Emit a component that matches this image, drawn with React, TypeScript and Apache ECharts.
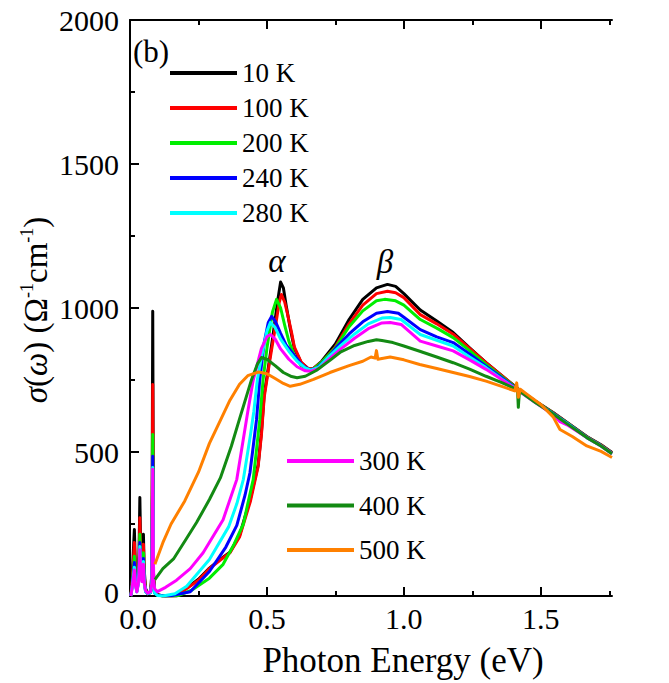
import React, { useEffect, useRef } from "react";
import * as echarts from "echarts";

type Pt = [number, number];

const FONT = "'Liberation Serif', 'Times New Roman', serif";

const seriesNames = ["10 K", "100 K", "200 K", "240 K", "280 K", "300 K", "400 K", "500 K"];
const seriesColors = ["#000000", "#ff0000", "#00ee00", "#0000ff", "#00ffff", "#ff00ff", "#138a13", "#ff8000"];
const legendTop = ["10 K", "100 K", "200 K", "240 K", "280 K"];
const legendBottom = ["300 K", "400 K", "500 K"];

const xMajorTicks = [0, 0.5, 1.0, 1.5];
const xMinorTicks = [0.25, 0.75, 1.25, 1.75];

const t10K: Pt[] = [
  [0.003, 0], [0.008, 70], [0.012, 150], [0.016, 231], [0.02, 90], [0.025, 30], [0.03, 80], [0.033, 150],
  [0.036, 342], [0.039, 160], [0.043, 100], [0.046, 140], [0.049, 214], [0.052, 90], [0.057, 25], [0.065, 10],
  [0.075, 15], [0.08, 80], [0.083, 989], [0.086, 80], [0.09, 20], [0.1, 5], [0.12, 0], [0.15, 0], [0.17, 0],
  [0.19, 15], [0.21, 30], [0.25, 58], [0.29, 97], [0.33, 128], [0.365, 152], [0.4, 210], [0.44, 340],
  [0.468, 455], [0.48, 570], [0.49, 700], [0.5, 760], [0.52, 890], [0.54, 1030], [0.55, 1090], [0.56, 1070],
  [0.57, 1010], [0.585, 930], [0.6, 860], [0.625, 810], [0.65, 790], [0.67, 790], [0.7, 815], [0.75, 875],
  [0.8, 960], [0.85, 1030], [0.9, 1070], [0.94, 1082], [0.97, 1075], [1.0, 1050], [1.06, 993], [1.12, 955],
  [1.18, 915], [1.24, 862], [1.3, 810], [1.36, 763], [1.42, 717], [1.48, 677], [1.545, 637], [1.6, 600],
  [1.668, 554], [1.72, 525], [1.76, 498],
];

const t100K: Pt[] = [
  [0.003, 0], [0.008, 50], [0.012, 110], [0.016, 186], [0.02, 70], [0.025, 25], [0.03, 60], [0.033, 120],
  [0.036, 272], [0.039, 130], [0.043, 80], [0.046, 110], [0.049, 180], [0.052, 70], [0.057, 20], [0.065, 8],
  [0.075, 12], [0.08, 60], [0.083, 734], [0.086, 60], [0.09, 15], [0.1, 4], [0.12, 0], [0.15, 0], [0.175, 2],
  [0.21, 28], [0.25, 55], [0.29, 95], [0.33, 125], [0.365, 150], [0.4, 205], [0.44, 330], [0.468, 450],
  [0.48, 560], [0.49, 690], [0.5, 752], [0.51, 815], [0.53, 930], [0.545, 1020], [0.553, 1047], [0.565, 1020],
  [0.575, 980], [0.59, 915], [0.6, 865], [0.625, 812], [0.65, 790], [0.67, 790], [0.7, 812], [0.75, 865],
  [0.8, 945], [0.85, 1010], [0.9, 1050], [0.94, 1058], [0.97, 1053], [1.0, 1036], [1.06, 977], [1.12, 945],
  [1.18, 909], [1.24, 860], [1.3, 810], [1.36, 763], [1.42, 716], [1.48, 676], [1.545, 636], [1.6, 599],
  [1.668, 553], [1.72, 524], [1.76, 497],
];

const t200K: Pt[] = [
  [0.003, 0], [0.008, 40], [0.012, 90], [0.016, 138], [0.02, 55], [0.025, 20], [0.03, 50], [0.033, 100],
  [0.036, 214], [0.039, 110], [0.043, 70], [0.046, 90], [0.049, 150], [0.052, 60], [0.057, 18], [0.065, 8],
  [0.075, 12], [0.08, 50], [0.083, 561], [0.086, 50], [0.09, 12], [0.1, 3], [0.12, 0], [0.15, 0], [0.18, 3],
  [0.225, 20], [0.29, 62], [0.34, 110], [0.38, 180], [0.414, 250], [0.43, 320], [0.45, 405], [0.474, 613],
  [0.486, 752], [0.5, 860], [0.52, 985], [0.535, 1030], [0.55, 1000], [0.565, 940], [0.58, 885], [0.6, 835],
  [0.625, 800], [0.65, 787], [0.67, 788], [0.7, 812], [0.75, 862], [0.8, 935], [0.85, 990], [0.9, 1025],
  [0.93, 1030], [0.97, 1025], [1.0, 1010], [1.06, 960], [1.12, 930], [1.18, 897], [1.24, 852], [1.3, 804],
  [1.36, 760], [1.42, 715], [1.48, 675], [1.545, 635], [1.6, 598], [1.668, 552], [1.72, 523], [1.76, 496],
];

const t240K: Pt[] = [
  [0.003, 0], [0.008, 35], [0.012, 75], [0.016, 116], [0.02, 45], [0.025, 15], [0.03, 45], [0.033, 90],
  [0.036, 186], [0.039, 95], [0.043, 60], [0.046, 80], [0.049, 130], [0.052, 50], [0.057, 15], [0.065, 8],
  [0.075, 12], [0.08, 45], [0.083, 485], [0.086, 45], [0.09, 10], [0.1, 3], [0.13, 0], [0.16, 3], [0.22, 15],
  [0.29, 85], [0.35, 170], [0.39, 245], [0.42, 350], [0.438, 428], [0.45, 520], [0.462, 613], [0.474, 752],
  [0.49, 880], [0.505, 950], [0.517, 971], [0.53, 955], [0.55, 912], [0.57, 872], [0.6, 835], [0.63, 800],
  [0.655, 786], [0.68, 790], [0.72, 825], [0.76, 870], [0.8, 910], [0.85, 952], [0.9, 982], [0.94, 988],
  [0.98, 982], [1.0, 968], [1.06, 925], [1.12, 900], [1.18, 880], [1.24, 840], [1.3, 798], [1.36, 756],
  [1.42, 714], [1.48, 674], [1.545, 634], [1.6, 597], [1.668, 551], [1.72, 522], [1.76, 495],
];

const t280K: Pt[] = [
  [0.003, 0], [0.008, 30], [0.012, 65], [0.016, 100], [0.02, 40], [0.025, 15], [0.03, 40], [0.033, 80],
  [0.036, 172], [0.039, 85], [0.043, 55], [0.046, 70], [0.049, 120], [0.052, 45], [0.057, 15], [0.065, 8],
  [0.075, 12], [0.08, 45], [0.083, 446], [0.086, 45], [0.09, 10], [0.1, 2], [0.12, 0], [0.164, 8],
  [0.207, 34], [0.29, 127], [0.36, 240], [0.39, 320], [0.414, 405], [0.44, 560], [0.452, 640], [0.465, 752],
  [0.48, 830], [0.5, 920], [0.513, 950], [0.53, 932], [0.55, 892], [0.58, 850], [0.61, 815], [0.64, 792],
  [0.66, 784], [0.69, 795], [0.73, 835], [0.77, 870], [0.82, 910], [0.87, 945], [0.92, 965], [0.95, 967],
  [0.99, 960], [1.06, 908], [1.12, 888], [1.18, 868], [1.24, 830], [1.3, 793], [1.36, 752], [1.42, 713],
  [1.48, 673], [1.545, 632], [1.6, 596], [1.668, 550], [1.72, 521], [1.76, 494],
];

const t300K: Pt[] = [
  [0.003, 0], [0.008, 30], [0.012, 60], [0.016, 90], [0.02, 35], [0.025, 15], [0.03, 40], [0.033, 75],
  [0.036, 161], [0.039, 80], [0.043, 50], [0.046, 65], [0.049, 110], [0.052, 45], [0.057, 18], [0.065, 10],
  [0.075, 15], [0.08, 45], [0.083, 440], [0.086, 50], [0.09, 25], [0.1, 15], [0.13, 30], [0.17, 55],
  [0.22, 95], [0.267, 150], [0.34, 265], [0.39, 405], [0.43, 640], [0.45, 750], [0.48, 860], [0.5, 900],
  [0.513, 908], [0.53, 892], [0.55, 858], [0.58, 822], [0.61, 796], [0.64, 782], [0.66, 780], [0.69, 790],
  [0.73, 825], [0.77, 858], [0.82, 895], [0.87, 928], [0.92, 948], [0.95, 950], [0.99, 943], [1.06, 885],
  [1.12, 868], [1.18, 851], [1.24, 820], [1.3, 787], [1.36, 750], [1.42, 712], [1.48, 672], [1.545, 630],
  [1.57, 605], [1.6, 592], [1.668, 550], [1.72, 521], [1.76, 494],
];

const t400K: Pt[] = [
  [0.091, 57], [0.12, 95], [0.16, 130], [0.2, 190], [0.243, 255], [0.29, 335], [0.33, 410], [0.37, 520],
  [0.4, 615], [0.444, 752], [0.465, 805], [0.48, 828], [0.5, 822], [0.53, 800], [0.56, 776], [0.59, 762],
  [0.61, 758], [0.64, 763], [0.68, 783], [0.73, 818], [0.77, 848], [0.82, 870], [0.87, 884], [0.9, 890],
  [0.92, 887], [0.96, 880], [1.0, 868], [1.058, 850], [1.12, 830], [1.18, 810], [1.24, 788], [1.3, 763],
  [1.36, 740], [1.405, 720], [1.415, 715], [1.418, 655], [1.422, 712], [1.48, 672], [1.545, 632],
  [1.6, 595], [1.668, 550], [1.72, 521], [1.76, 494],
];

const t500K: Pt[] = [
  [0.091, 110], [0.12, 185], [0.15, 250], [0.2, 330], [0.25, 430], [0.29, 530], [0.33, 610], [0.365, 680],
  [0.4, 735], [0.43, 765], [0.47, 778], [0.5, 772], [0.53, 755], [0.56, 738], [0.585, 728], [0.62, 735],
  [0.67, 752], [0.73, 776], [0.8, 800], [0.85, 815], [0.88, 830], [0.895, 826], [0.9, 852], [0.905, 822],
  [0.95, 830], [1.0, 820], [1.058, 804], [1.12, 790], [1.18, 776], [1.24, 762], [1.3, 746], [1.36, 727],
  [1.405, 712], [1.412, 740], [1.418, 690], [1.425, 718], [1.45, 700], [1.5, 665], [1.545, 622],
  [1.57, 578], [1.615, 554], [1.668, 521], [1.72, 502], [1.76, 481],
];

const allData: Pt[][] = [t10K, t100K, t200K, t240K, t280K, t300K, t400K, t500K];

export default function App() {
  const ref = useRef<HTMLDivElement>(null);

  useEffect(() => {
    document.body.style.margin = "0";
    if (!ref.current) return;
    const chart = echarts.init(ref.current, undefined, { renderer: "svg" });

    const axisLineStyle = { color: "#000", width: 2 };
    const labelStyle = { fontFamily: FONT, fontSize: 30, color: "#000" };

    const legendCommon = {
      orient: "vertical" as const,
      itemWidth: 67,
      itemHeight: 4,
      icon: "rect",
      padding: 0,
      textStyle: { fontFamily: FONT, fontSize: 27, color: "#000", lineHeight: 27 },
      selectedMode: false,
    };

    chart.setOption({
      animation: false,
      backgroundColor: "#fff",
      grid: { left: 130, top: 20, right: 57, bottom: 87, containLabel: false },
      legend: [
        { ...legendCommon, data: legendTop, left: 170, top: 59.5, itemGap: 8 },
        { ...legendCommon, data: legendBottom, left: 287, top: 447.5, itemGap: 17.5 },
      ],
      xAxis: [
        {
          type: "value", min: 0, max: 1.76, interval: 0.5, position: "bottom",
          axisLine: { show: true, lineStyle: axisLineStyle },
          axisTick: { show: true, inside: true, length: 9, lineStyle: axisLineStyle, customValues: xMajorTicks },
          axisLabel: {
            ...labelStyle, margin: 11, lineHeight: 22, customValues: xMajorTicks,
            formatter: (v: number) => (v === 0 ? "{z|0.0}" : v.toFixed(1)),
            rich: { z: { fontFamily: FONT, fontSize: 30, color: "#000", lineHeight: 22, padding: [0, 0, 0, 16] } },
          },
          splitLine: { show: false },
        },
        {
          type: "value", min: 0, max: 1.76, interval: 0.25, position: "bottom",
          axisLine: { show: false },
          axisTick: { show: true, inside: true, length: 5, lineStyle: axisLineStyle, customValues: xMinorTicks },
          axisLabel: { show: false },
          splitLine: { show: false },
        },
        {
          type: "value", min: 0, max: 1.76, interval: 0.5, position: "top",
          axisLine: { show: true, lineStyle: axisLineStyle },
          axisTick: { show: true, inside: true, length: 9, lineStyle: axisLineStyle, customValues: xMajorTicks },
          axisLabel: { show: false },
          splitLine: { show: false },
        },
        {
          type: "value", min: 0, max: 1.76, interval: 0.25, position: "top",
          axisLine: { show: false },
          axisTick: { show: true, inside: true, length: 5, lineStyle: axisLineStyle, customValues: xMinorTicks },
          axisLabel: { show: false },
          splitLine: { show: false },
        },
      ],
      yAxis: {
        type: "value", min: 0, max: 2000, interval: 500,
        axisLine: { show: true, lineStyle: axisLineStyle },
        axisTick: { show: true, inside: true, length: 9, lineStyle: axisLineStyle },
        minorTick: { show: true, splitNumber: 2, length: 5, lineStyle: axisLineStyle },
        axisLabel: {
          ...labelStyle, margin: 11, lineHeight: 18,
          formatter: (v: number) => (v === 0 ? "{z|0}" : String(v)),
          rich: { z: { fontFamily: FONT, fontSize: 30, color: "#000", lineHeight: 18, padding: [0, 0, 8, 0] } },
        },
        splitLine: { show: false },
        minorSplitLine: { show: false },
      },
      series: allData.map((d, i) => ({
        name: seriesNames[i],
        type: "line",
        data: d,
        xAxisIndex: 0,
        yAxisIndex: 0,
        showSymbol: false,
        symbol: "none",
        color: seriesColors[i],
        itemStyle: { color: seriesColors[i] },
        lineStyle: { color: seriesColors[i], width: 3, join: "round" },
        emphasis: { disabled: true },
      })),
      graphic: [
        {
          type: "text", left: 133, top: 36,
          style: { text: "(b)", fontFamily: FONT, fontSize: 31, fill: "#000" },
        },
        {
          type: "text", x: 277, y: 261,
          style: { text: "α", fontFamily: FONT, fontStyle: "italic", fontSize: 33, fill: "#000", align: "center", verticalAlign: "middle" },
        },
        {
          type: "text", x: 385, y: 262,
          style: { text: "β", fontFamily: FONT, fontStyle: "italic", fontSize: 33, fill: "#000", align: "center", verticalAlign: "middle" },
        },
        {
          type: "text", x: 403, y: 660,
          style: { text: "Photon Energy (eV)", fontFamily: FONT, fontSize: 35, fill: "#000", align: "center", verticalAlign: "middle" },
        },
        {
          type: "text", x: 36, y: 310, rotation: Math.PI / 2,
          style: {
            text: "{i|σ}{n|(}{i|ω}{n|) (Ω}{s|-1}{n|cm}{s|-1}{n|)}",
            align: "center", verticalAlign: "middle",
            fontFamily: FONT, fontSize: 33, fill: "#000",
            rich: {
              i: { fontFamily: FONT, fontStyle: "italic", fontSize: 33, fill: "#000", lineHeight: 36 },
              n: { fontFamily: FONT, fontSize: 33, fill: "#000", lineHeight: 36 },
              s: { fontFamily: FONT, fontSize: 18, fill: "#000", verticalAlign: "top", lineHeight: 18 },
            },
          },
        },
      ],
    });

    return () => chart.dispose();
  }, []);

  return <div ref={ref} style={{ width: 669, height: 683 }} />;
}
